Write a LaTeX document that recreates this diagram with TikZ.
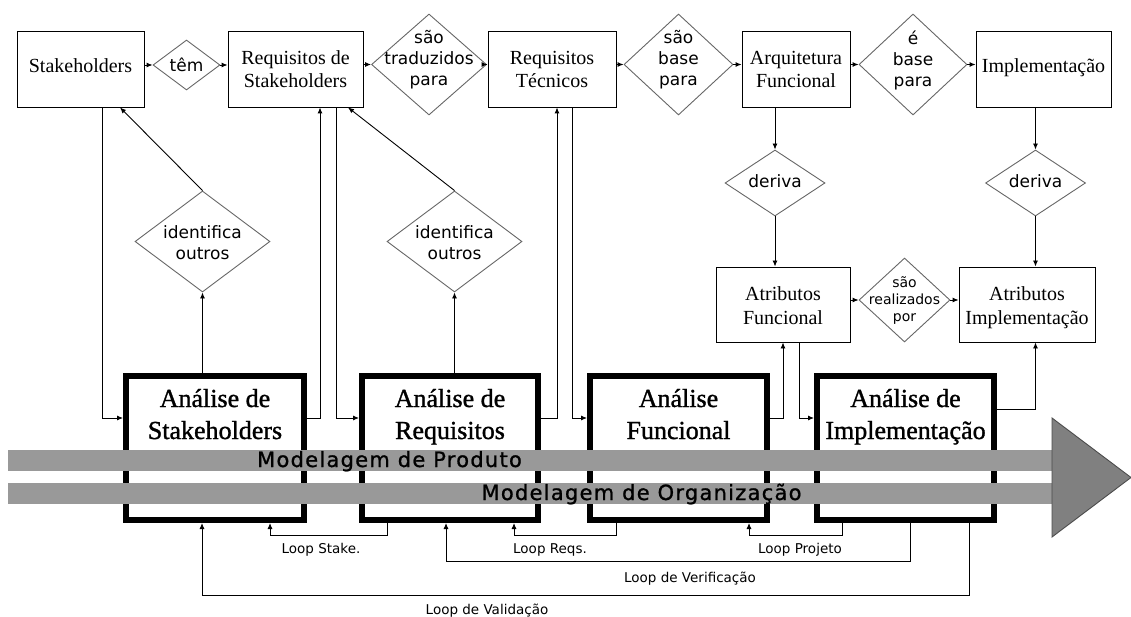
\documentclass[tikz,border=0pt]{standalone}
\usepackage{fontspec}
\setmainfont{Liberation Serif}
\newfontfamily\djv{DejaVu Sans}
\newfontfamily\bigserif[FakeBold=1.2]{Liberation Serif}
\newfontfamily\bandf[LetterSpace=6,FakeBold=1]{DejaVu Sans}
\usetikzlibrary{shapes.geometric,arrows.meta}
\newcommand\twol[2]{\begin{tabular}[b]{@{}c@{}}#1\\#2\end{tabular}}
\newcommand\threel[3]{\begin{tabular}[b]{@{}c@{}}#1\\#2\\#3\end{tabular}}
\definecolor{bandgray}{HTML}{999999}
\definecolor{arrowgray}{HTML}{808080}
\begin{document}
\begin{tikzpicture}[x=1pt,y=-1pt,
 tbox/.style={draw, line width=0.9pt, inner sep=0pt},
 dia/.style={diamond, draw=black!60, line width=0.9pt, inner sep=0pt},
 bigbox/.style={draw, line width=6pt, fill=white, inner sep=0pt},
 ser/.style={inner sep=0pt, anchor=base, font=\fontsize{20}{23.5}\selectfont},
 big/.style={inner sep=0pt, anchor=base, font=\bigserif\fontsize{26}{32}\selectfont},
 dt/.style={inner sep=0pt, anchor=base, font=\djv\fontsize{17}{21}\selectfont},
 st/.style={inner sep=0pt, anchor=base, font=\djv\fontsize{14}{17}\selectfont},
 lt/.style={inner sep=0pt, anchor=base, font=\djv\fontsize{13.5}{16}\selectfont},
 bt/.style={inner sep=0pt, anchor=base, font=\bandf\fontsize{21}{22}\selectfont},
 arr/.style={line width=0.9pt, -{Latex[length=6pt,width=5pt]}},
 ln/.style={line width=0.9pt}]
\useasboundingbox (0,0) rectangle (1131,617);

% top row boxes
\node[tbox, minimum width=127, minimum height=76] (S) at (80.5,69) {};
\node[tbox, minimum width=135, minimum height=76] (RS) at (295.5,69) {};
\node[tbox, minimum width=128, minimum height=76] (RT) at (552,69) {};
\node[tbox, minimum width=108, minimum height=76] (AF) at (796,69) {};
\node[tbox, minimum width=135, minimum height=76] (IM) at (1043.5,69) {};
\node[ser] (St) at (80.5,73) {Stakeholders};
\node[ser] (RSt) at (295.5,88) {\twol{Requisitos de}{Stakeholders}};
\node[ser] (RTt) at (552,88) {\twol{Requisitos}{Técnicos}};
\node[ser] (AFt) at (796,88) {\twol{Arquitetura}{Funcional}};
\node[ser] (IMt) at (1043.5,73) {Implementação};

% top diamonds
\node[dia, minimum width=67, minimum height=50] (tem) at (186.5,65) {};
\node[dia, minimum width=115, minimum height=101] (trad) at (429,64.5) {};
\node[dia, minimum width=109, minimum height=101] (base) at (678.5,64.5) {};
\node[dia, minimum width=108, minimum height=101] (ebase) at (913,64.5) {};
\node[dt] (temt) at (186.5,72) {têm};
\node[dt] (tradt) at (429,86) {\threel{são}{traduzidos}{para}};
\node[dt] (baset) at (678.5,86) {\threel{são}{base}{para}};
\node[dt] (ebaset) at (913,87) {\threel{é}{base}{para}};

% middle diamonds
\node[dia, minimum width=135, minimum height=101] (idS) at (202.5,241.5) {};
\node[dia, minimum width=135, minimum height=101] (idR) at (454.5,241.5) {};
\node[dt] (idSt) at (202.5,260) {\twol{identifica}{outros}};
\node[dt] (idRt) at (454.5,260) {\twol{identifica}{outros}};
\node[dia, minimum width=100, minimum height=66] (der1) at (775,183) {};
\node[dia, minimum width=100, minimum height=66] (der2) at (1035.5,183) {};
\node[dt] (der1t) at (775,188) {deriva};
\node[dt] (der2t) at (1035.5,188) {deriva};

% attribute boxes
\node[tbox, minimum width=134, minimum height=75] (AtF) at (783,304.5) {};
\node[tbox, minimum width=136, minimum height=75] (AtI) at (1027,304.5) {};
\node[ser] (AtFt) at (783,324) {\twol{Atributos}{Funcional}};
\node[ser] (AtIt) at (1027,324) {\twol{Atributos}{Implementação}};
\node[dia, minimum width=91, minimum height=84] (real) at (904.5,300) {};
\node[st] (realt) at (904.5,321) {\threel{são}{realizados}{por}};

% big analysis boxes
\node[bigbox, minimum width=178, minimum height=144] (AS) at (215,448) {};
\node[bigbox, minimum width=176, minimum height=144] (AR) at (450,448) {};
\node[bigbox, minimum width=177, minimum height=144] (AFn) at (678.5,448) {};
\node[bigbox, minimum width=177, minimum height=144] (AI) at (905.5,448) {};
\node[big] (ASt) at (215,439) {\twol{Análise de}{Stakeholders}};
\node[big] (ARt) at (450,439) {\twol{Análise de}{Requisitos}};
\node[big] (AFnt) at (678.5,439) {\twol{Análise}{Funcional}};
\node[big] (AIt) at (905.5,439) {\twol{Análise de}{Implementação}};

% bands and big arrow
\fill[bandgray] (8,450) rectangle (1052,471);
\fill[bandgray] (8,483) rectangle (1052,504);
\filldraw[fill=arrowgray, draw=black!70, line width=0.9pt] (1052,418) -- (1131,477.5) -- (1052,537) -- cycle;
\node[bt] (prod) at (389.5,467) {Modelagem de Produto};
\node[bt] (org) at (641.5,500) {Modelagem de Organização};

% top chain
\draw[arr] (S.east |- tem) -- (tem.west);
\draw[arr] (tem.east) -- (tem.east -| RS.west);
\draw[arr] (RS.east |- trad) -- (trad.west);
\draw[arr] (trad.east) -- (trad.east -| RT.west);
\draw[arr] (RT.east |- base) -- (base.west);
\draw[arr] (base.east) -- (base.east -| AF.west);
\draw[arr] (AF.east |- ebase) -- (ebase.west);
\draw[arr] (ebase.east) -- (ebase.east -| IM.west);

% stakeholders / requirements columns
\draw[arr] (S.south -| 102,0) |- (AS.west |- 0,418);
\draw[arr] (idS.north) -- (S.south -| 120,0);
\draw[arr] (AS.north -| idS) -- (idS.south);
\draw[arr] (AS.east |- 0,418) -| (RS.south -| 320,0);
\draw[arr] (RS.south -| 336,0) |- (AR.west |- 0,418);
\draw[arr] (idR.north) -- (RS.south -| 348,0);
\draw[arr] (AR.north -| idR) -- (idR.south);
\draw[arr] (AR.east |- 0,418) -| (RT.south -| 557,0);
\draw[arr] (RT.south -| 572,0) |- (AFn.west |- 0,418);

% functional / implementation columns
\draw[arr] (AF.south -| der1) -- (der1.north);
\draw[arr] (der1.south) -- (AtF.north -| der1);
\draw[arr] (IM.south -| der2) -- (der2.north);
\draw[arr] (der2.south) -- (AtI.north -| der2);
\draw[arr] (AFn.east |- 0,418) -| (AtF.south -| 783,0);
\draw[arr] (AtF.south -| 799,0) |- (AI.west |- 0,418);
\draw[arr] (AI.east |- 0,409) -| (AtI.south -| der2);
\draw[arr] (AtF.east |- real) -- (real.west);
\draw[arr] (real.east) -- (real.east -| AtI.west);

% loops
\draw[arr] (AR.south -| 387,0) -- (387,535) -| (AS.south -| 270,0);
\draw[arr] (AFn.south -| 616,0) -- (616,535) -| (AR.south -| 514,0);
\draw[arr] (AI.south -| 842,0) -- (842,535) -| (AFn.south -| 749,0);
\draw[arr] (AI.south -| 910,0) -- (910,561) -| (AR.south -| 446,0);
\draw[arr] (AI.south -| 969,0) -- (969,595) -| (AS.south -| 202,0);
\node[lt] (lst) at (321,553) {Loop Stake.};
\node[lt] (lrq) at (550,553) {Loop Reqs.};
\node[lt] (lpj) at (800,553) {Loop Projeto};
\node[lt] (lvf) at (690,582) {Loop de Verificação};
\node[lt] (lvd) at (487,614) {Loop de Validação};
\end{tikzpicture}
\end{document}
